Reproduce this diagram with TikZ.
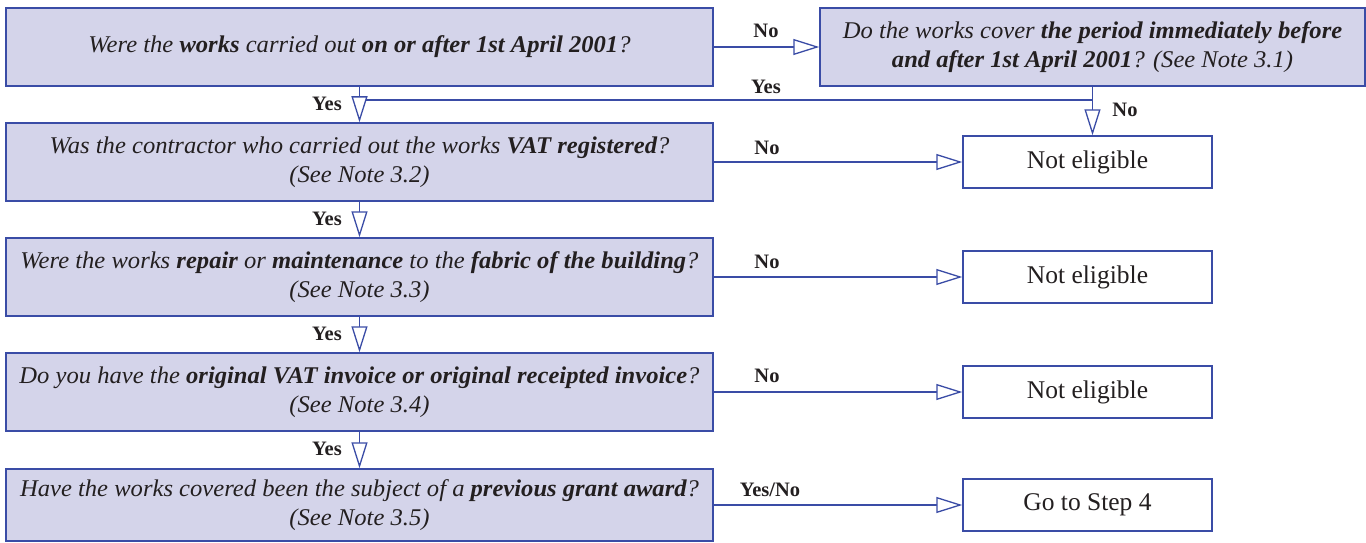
\documentclass[tikz,border=0pt]{standalone}
\usepackage{fontspec}
\setmainfont{Liberation Serif}
\newfontfamily\qfam[FakeStretch=1.025]{Liberation Serif}
\usetikzlibrary{arrows.meta}
\definecolor{lineblue}{RGB}{58,76,166}
\definecolor{boxfill}{RGB}{212,212,234}
\definecolor{ink}{RGB}{35,31,32}
\newcommand{\qfont}{\qfam\fontsize{24}{29}\selectfont\itshape}
\newcommand{\rfont}{\fontsize{25.5}{29}\selectfont}
\newcommand{\lfont}{\fontsize{20.5}{22}\selectfont\bfseries}
\begin{document}
\begin{tikzpicture}[x=1pt,y=-1pt,
  qbox/.style={draw=lineblue, fill=boxfill, line width=1.5pt, inner sep=0pt,
    minimum width=707pt, minimum height=78pt, align=center, font=\qfont, text=ink},
  rbox/.style={draw=lineblue, fill=white, line width=1.5pt, inner sep=0pt,
    minimum width=249pt, minimum height=52pt, font=\rfont, text=ink},
  lab/.style={font=\lfont, text=ink, inner sep=0pt},
  conn/.style={draw=lineblue, line width=1.3pt},
  arr/.style={conn, -{Triangle[length=26pt, width=16pt, fill=white]}}
]
\useasboundingbox (0,0) rectangle (1366,543);

% question boxes
\node[qbox] (q1) at (359.5,47) {Were the \textbf{works} carried out \textbf{on or after 1st April 2001}?};
\node[qbox] (q2) at (359.5,162) {Was the contractor who carried out the works \textbf{VAT registered}?\\(See Note 3.2)};
\node[qbox] (q3) at (359.5,277) {Were the works \textbf{repair} or \textbf{maintenance} to the \textbf{fabric of the building}?\\(See Note 3.3)};
\node[qbox] (q4) at (359.5,392) {Do you have the \textbf{original VAT invoice or original receipted invoice}?\\(See Note 3.4)};
\node[qbox, minimum height=72pt] (q5) at (359.5,505) {Have the works covered been the subject of a \textbf{previous grant award}?\\(See Note 3.5)};

% right question box
\node[qbox, minimum width=545pt] (r) at (1092.5,47) {Do the works cover \textbf{the period immediately before}\\\textbf{and after 1st April 2001}? (See Note 3.1)};

% result boxes
\node[rbox] (n1) at (1087.5,162) {Not eligible};
\node[rbox] (n2) at (1087.5,277) {Not eligible};
\node[rbox] (n3) at (1087.5,392) {Not eligible};
\node[rbox] (g4) at (1087.5,505) {Go to Step 4};

% Yes line from the right box branch
\coordinate (j) at (r.south |- 0,100);
\draw[conn] (j) -- (q1.south |- j);

% vertical Yes arrows
\draw[arr] (q1) -- (q2);
\draw[arr] (q2) -- (q3);
\draw[arr] (q3) -- (q4);
\draw[arr] (q4) -- (q5);

% top No arrow
\draw[arr] (q1) -- (r);
% right box No arrow
\draw[arr] (r.south) -- (r.south |- n1.north);

% horizontal No arrows
\draw[arr] (q2) -- (n1);
\draw[arr] (q3) -- (n2);
\draw[arr] (q4) -- (n3);
\draw[arr] (q5) -- (g4);

% labels
\node[lab] (lno1) at (766,31) {No};
\node[lab] (lyes0) at (766,87) {Yes};
\node[lab] (lno0) at (1125,110) {No};
\node[lab] (ly1) at (327,104) {Yes};
\node[lab] (ly2) at (327,219) {Yes};
\node[lab] (ly3) at (327,334) {Yes};
\node[lab] (ly4) at (327,449) {Yes};
\node[lab] (lno2) at (767,148) {No};
\node[lab] (lno3) at (767,262) {No};
\node[lab] (lno4) at (767,376) {No};
\node[lab] (lyn) at (770,490) {Yes/No};
\end{tikzpicture}
\end{document}
